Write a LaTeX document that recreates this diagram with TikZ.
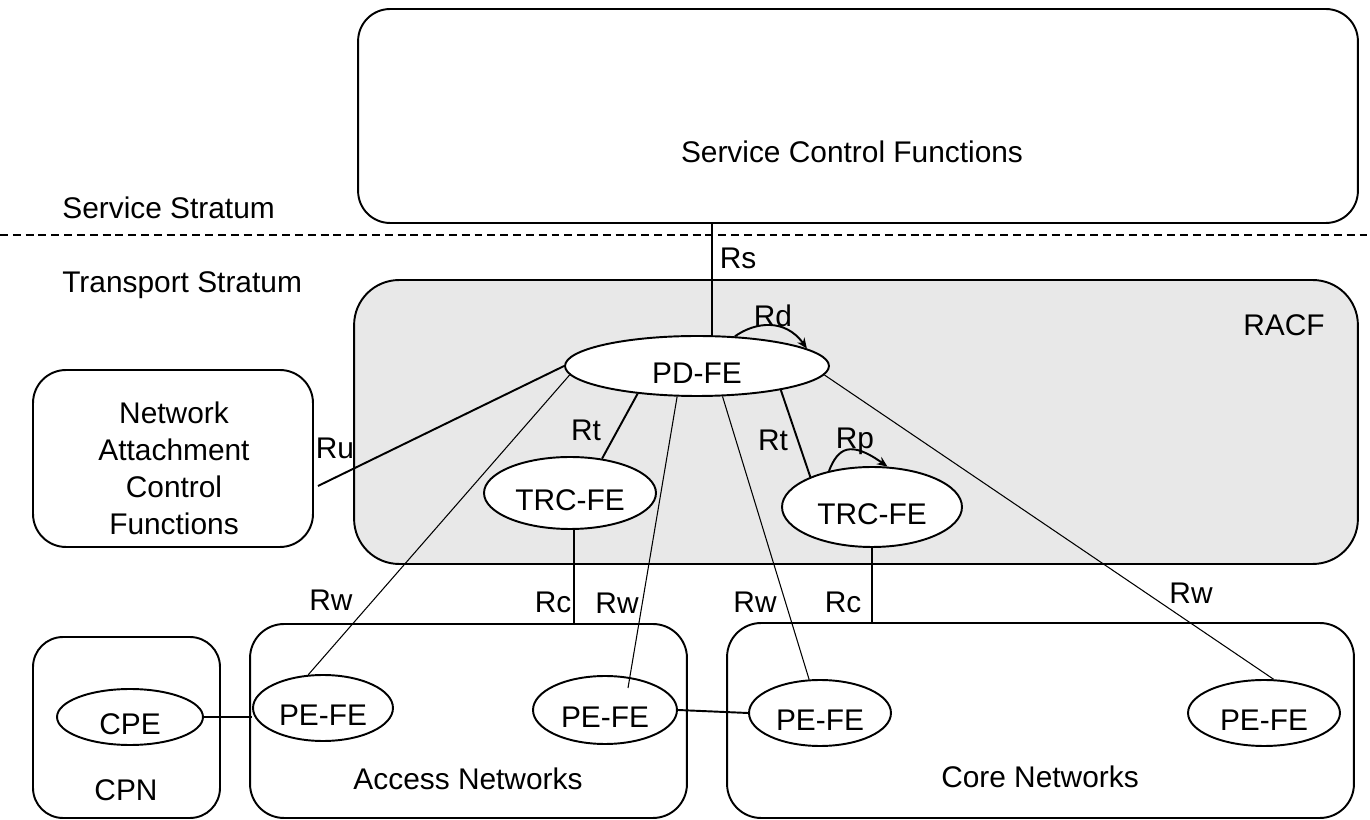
\documentclass[tikz,border=0pt]{standalone}
\usepackage{fontspec}
\setmainfont{Liberation Sans}
\usetikzlibrary{shapes.geometric,arrows.meta}
\begin{document}
\begin{tikzpicture}[x=0.02cm,y=-0.02cm,
  every node/.style={font=\fontsize{17}{21}\selectfont},
  box/.style={draw,line width=1.1pt,inner sep=0pt},
  fe/.style={ellipse,draw,fill=white,line width=1.1pt,inner sep=0pt,text height=20.2pt,text depth=0pt},
  lbl/.style={text height=12.2pt,text depth=0pt,inner sep=0pt},
  thin/.style={line width=0.6pt},
  thk/.style={line width=1.1pt},
  tip/.style={-{Stealth[length=6pt,width=5pt]}}
]
\useasboundingbox (0,0) rectangle (1370,820);

% boxes
\node[box,rounded corners=0.64cm,minimum width=20cm,minimum height=4.28cm] (scf) at (858,116) {};
\node[lbl] (scft) at (852,152) {Service Control Functions};

\coordinate (dl) at (0,235);
\coordinate (dr) at (1370,235);
\draw[line width=1pt,dash pattern=on 4.5pt off 2.8pt] (dl) -- (dr);
\node[lbl,anchor=west] (ss) at (62,208) {Service Stratum};
\node[lbl,anchor=west] (ts) at (62,282) {Transport Stratum};

\node[box,rounded corners=0.9cm,fill=gray!18,minimum width=20.08cm,minimum height=5.68cm] (racf) at (856,422) {};
\node[lbl] (racft) at (1284,325) {RACF};

\node[box,rounded corners=0.66cm,minimum width=5.6cm,minimum height=3.54cm] (nacf) at (173,458.5) {};
\node[align=center] (nacft) at (174,468) {Network\\Attachment\\Control\\Functions};

\node[box,rounded corners=0.6cm,minimum width=3.74cm,minimum height=3.62cm] (cpn) at (126.5,727.5) {};
\node[lbl] (cpnt) at (126,790) {CPN};
\node[box,rounded corners=0.68cm,minimum width=8.74cm,minimum height=3.88cm] (acc) at (468.5,721) {};
\node[lbl] (acct) at (468,779) {Access Networks};
\node[box,rounded corners=0.68cm,minimum width=12.54cm,minimum height=3.9cm] (core) at (1040.5,720.5) {};
\node[lbl] (coret) at (1040,777) {Core Networks};

% functional entities
\node[fe,minimum width=5.28cm,minimum height=1.2cm] (pd) at (697,366) {PD-FE};
\node[fe,minimum width=3.44cm,minimum height=1.44cm] (trc1) at (570,493) {TRC-FE};
\node[fe,minimum width=3.6cm,minimum height=1.6cm] (trc2) at (872,507) {TRC-FE};
\node[fe,minimum width=2.92cm,minimum height=1.12cm] (cpe) at (130,717) {CPE};
\node[fe,minimum width=2.8cm,minimum height=1.32cm] (pe1) at (323,708) {PE-FE};
\node[fe,minimum width=2.88cm,minimum height=1.36cm] (pe2) at (605,710) {PE-FE};
\node[fe,minimum width=2.84cm,minimum height=1.32cm] (pe3) at (820,713) {PE-FE};
\node[fe,minimum width=3.04cm,minimum height=1.32cm] (pe4) at (1264,713) {PE-FE};

% connectors
\coordinate (rsx) at (712,0);
\draw[line width=0.85pt] (scf.south -| rsx) -- (pd.north -| rsx);
\draw[thk] ([shift={(4,27.5)}]nacf.east) -- (pd.west);
\draw[thin] (pd.184.6) -- (pe1.114.4);
\draw[thk] (pd.205) -- (trc1.47.6);
\draw[thin] (pd.-123) -- ([shift={(23,-22)}]pe2.center);
\draw[thin] (pd.-50.2) -- (pe3.108.4);
\draw[thk] (pd.-16.6) -- (trc2.154.2);
\draw[thin] (pd.-4.5) -- (pe4.74.7);
\coordinate (rc1) at (574,0);
\draw[thk] (trc1.south -| rc1) -- (acc.north -| rc1);
\draw[thk] (trc2.south) -- (trc2.south |- core.north);
\draw[thk] (cpe.east) -- (cpe.east -| pe1.west);
\draw[thk] (pe2.east) -- (pe3.west);
\draw[thk,tip] (pd.38.9) .. controls (755,322) and (785,318) .. (pd.9.6);
\draw[thk,tip] (trc2.140) .. controls (838,448) and (850,440) .. (trc2.69.4);

% interface labels
\node[lbl] (lrs) at (738,258) {Rs};
\node[lbl] (lrd) at (773,316) {Rd};
\node[lbl] (lru) at (335,448) {Ru};
\node[lbl] (lrt1) at (586,430) {Rt};
\node[lbl] (lrt2) at (773,440) {Rt};
\node[lbl] (lrp) at (855,438) {Rp};
\node[lbl] (lrw1) at (331,600) {Rw};
\node[lbl] (lrc1) at (553,602) {Rc};
\node[lbl] (lrw2) at (617,603) {Rw};
\node[lbl] (lrw3) at (755,602) {Rw};
\node[lbl] (lrc2) at (843,602) {Rc};
\node[lbl] (lrw4) at (1191,593) {Rw};
\end{tikzpicture}
\end{document}
